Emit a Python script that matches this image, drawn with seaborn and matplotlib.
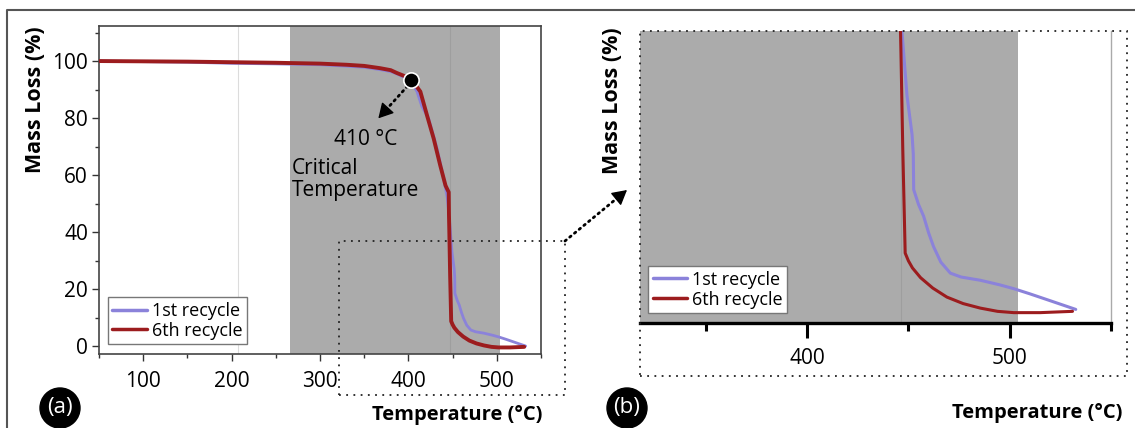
import numpy as np
import pandas as pd
import matplotlib
matplotlib.use("Agg")
import matplotlib.pyplot as plt
from matplotlib.patches import Rectangle, Circle, FancyArrowPatch
from matplotlib.lines import Line2D
from matplotlib.ticker import MultipleLocator
import seaborn as sns

# TGA curves
temp_1st = [50, 100, 150, 200, 250, 300, 330, 350, 368, 380, 387, 395, 403, 409.7, 415.3,
            422.8, 432.4, 440, 444, 446.8, 449.3, 451.8, 452.4, 452.6, 455, 457.5, 460,
            462.4, 466, 470.7, 476, 485.5, 495, 502, 510, 518.5, 532.6]
mass_1st = [100, 99.8, 99.6, 99.2, 99.0, 98.7, 98.2, 97.8, 97.0, 96.3, 95.5, 94.3, 92.8, 89.3, 84,
            79.9, 69.3, 58.7, 52, 43, 33, 27, 24, 18.5, 16.2, 14.4, 11.8,
            9.7, 7.3, 5.6, 5.0, 4.5, 3.8, 3.2, 2.4, 1.5, 0.0]

temp_6th = [50, 100, 150, 200, 250, 300, 330, 350, 368, 380, 387, 395, 403, 408, 413.5, 421,
            428.6, 436, 442, 444, 445.6, 445.9, 446.3, 447.2, 448.4, 450, 452, 456, 462, 469,
            477, 485.5, 494, 502, 515, 531]
mass_6th = [100, 99.9, 99.8, 99.6, 99.4, 99.1, 98.7, 98.3, 97.5, 96.8, 95.8, 94.8, 93.4, 91.6, 89.3, 81,
            72.8, 63.4, 56.3, 55.0, 54.0, 46, 40, 25, 8.7, 7.5, 6.4, 4.9, 3.3, 1.9,
            0.9, 0.2, -0.3, -0.5, -0.5, -0.3]

series_names = ["1st recycle", "6th recycle"]
series_colors = ["#8B82DA", "#9C1C1E"]

band_range = (266, 504)        # shaded region
grid_lines = [207, 446.5]
critical_temp = 403
critical_mass = 93.4
critical_label = "410 °C"
critical_text = "Critical\nTemperature"

xticks_a = [100, 200, 300, 400, 500]
yticks_a = [0, 20, 40, 60, 80, 100]
xticks_b = [400, 500]

sns.set_theme(style="white")
plt.rcParams["font.family"] = ["Open Sans", "DejaVu Sans"]
plt.rcParams["text.color"] = "black"
plt.rcParams["xtick.labelcolor"] = "black"
plt.rcParams["ytick.labelcolor"] = "black"

W, H = 1135, 428
fig = plt.figure(figsize=(W / 100, H / 100), dpi=100)


def px_box(x0, y0, x1, y1):
    return [x0 / W, 1 - y1 / H, (x1 - x0) / W, (y1 - y0) / H]


def dotted_arrow(start, tip, transform, container):
    # dotted shaft + solid filled head
    sx, sy = start
    tx, ty = tip
    base = (tx + 0.12 * (sx - tx), ty + 0.12 * (sy - ty))
    container.add_artist(Line2D([sx, base[0]], [sy, base[1]], transform=transform,
                                color="black", lw=2.0, linestyle=(0, (0.6, 1.6)),
                                dash_capstyle="round"))
    head = FancyArrowPatch(base, tip, transform=transform, arrowstyle="-|>,head_length=9,head_width=5",
                           mutation_scale=1, color="black", lw=1, shrinkA=0, shrinkB=0)
    container.add_artist(head)


ax_a = fig.add_axes(px_box(99, 26, 541, 354))
ax_b = fig.add_axes(px_box(640, 31, 1111, 323))

df = pd.concat([
    pd.DataFrame({"T": temp_1st, "m": mass_1st, "s": series_names[0]}),
    pd.DataFrame({"T": temp_6th, "m": mass_6th, "s": series_names[1]}),
])

for ax, lws in [(ax_a, (2.0, 2.8)), (ax_b, (2.2, 2.2))]:
    ax.axvspan(band_range[0] if ax is ax_a else 300, band_range[1], color="#ABABAB", lw=0, zorder=0)
    for g in grid_lines:
        ax.axvline(g, color="#dcdcdc" if g < band_range[0] else "#9e9e9e", lw=0.8, zorder=0.5)
    for name, col, lw in zip(series_names, series_colors, lws):
        sub = df[df["s"] == name]
        sns.lineplot(data=sub, x="T", y="m", ax=ax, color=col, lw=lw, estimator=None,
                     sort=False, label=name, zorder=3 if name == series_names[1] else 2)
    ax.set_xlabel("")
    ax.set_ylabel("")
    leg = ax.legend(loc="lower left", bbox_to_anchor=(0.02, 0.03) if ax is ax_a else (0.017, 0.034),
                    borderaxespad=0, fancybox=False, framealpha=1, edgecolor="#777777",
                    fontsize=13, handlelength=1.9, handletextpad=0.3, labelspacing=0.1,
                    borderpad=0.25)
    leg.get_frame().set_linewidth(1.0)
    for h in leg.get_lines():
        h.set_linewidth(2.5)

# panel (a)
ax_a.set_xlim(50, 550)
ax_a.set_ylim(-2.8, 112.3)
ax_a.set_xticks(xticks_a)
ax_a.set_yticks(yticks_a)
ax_a.xaxis.set_minor_locator(MultipleLocator(50))
ax_a.yaxis.set_minor_locator(MultipleLocator(10))
ax_a.tick_params(axis="both", which="major", labelsize=15, direction="out", length=5,
                 width=1, color="#333333", bottom=True, left=True)
ax_a.tick_params(axis="x", which="major", pad=7)
ax_a.tick_params(axis="y", which="major", pad=3)
ax_a.tick_params(axis="both", which="minor", direction="out", length=3, width=1,
                 color="#333333", bottom=True, left=True)
for sp in ax_a.spines.values():
    sp.set_color("#444444")
    sp.set_linewidth(1.2)

ax_a.plot([critical_temp], [critical_mass], "o", ms=11, mfc="black", mec="white", mew=1.2, zorder=5)
dotted_arrow((critical_temp - 4, critical_mass - 2.2), (366, 79.9), ax_a.transData, ax_a)
ax_a.text(352, 72.4, critical_label, fontsize=15, ha="center", va="center")
ax_a.text(268, 58.5, critical_text, fontsize=15, ha="left", va="center", linespacing=1.05)

# panel (b)
ax_b.set_xlim(317.5, 550)
ax_b.set_ylim(-2.1, 43)
ax_b.set_xticks(xticks_b)
ax_b.set_yticks([])
ax_b.xaxis.set_minor_locator(MultipleLocator(50))
ax_b.tick_params(axis="x", which="major", labelsize=15, direction="out", length=11,
                 width=2.2, color="black", bottom=True, pad=7)
ax_b.tick_params(axis="x", which="minor", direction="out", length=5.5, width=2.2,
                 color="black", bottom=True)
ax_b.spines["bottom"].set_color("black")
ax_b.spines["bottom"].set_linewidth(2.4)
ax_b.spines["right"].set_color("#aaaaaa")
ax_b.spines["right"].set_linewidth(1.0)
ax_b.spines["left"].set_visible(False)
ax_b.spines["top"].set_visible(False)

# axis titles
lab = dict(fontsize=15.5, fontweight="bold")
fig.text(36 / W, 1 - 26 / H, "Mass Loss (%)", rotation=90, ha="center", va="top", **lab)
fig.text(612 / W, 1 - 27 / H, "Mass Loss (%)", rotation=90, ha="center", va="top", **lab)
lab["fontsize"] = 14.5
fig.text(542 / W, 1 - 415 / H, "Temperature (°C)", ha="right", va="center", **lab)
fig.text(1122 / W, 1 - 413 / H, "Temperature (°C)", ha="right", va="center", **lab)

# dotted frames and connecting arrow
dots = dict(fill=False, ec="#222222", lw=1.3, linestyle=(0, (1, 3)), transform=None)
for x0, y0, x1, y1 in [(339, 241, 565, 395), (640, 31, 1127, 376)]:
    fig.patches.append(Rectangle((x0, H - y1), x1 - x0, y1 - y0, **dots))
dotted_arrow((565, H - 241), (627, H - 190), None, fig)

# outer border
fig.add_artist(Line2D([7, 7, W], [0, H - 10, H - 10], transform=None, color="#555555", lw=1.5))

# panel badges
for cx, txt in [(60, "(a)"), (627, "(b)")]:
    fig.patches.append(Circle((cx, H - 408), 20, color="black", transform=None))
    fig.text(cx / W, 1 - 407 / H, txt, color="white", fontsize=16, ha="center", va="center")

fig.savefig("out.png", dpi=100)
